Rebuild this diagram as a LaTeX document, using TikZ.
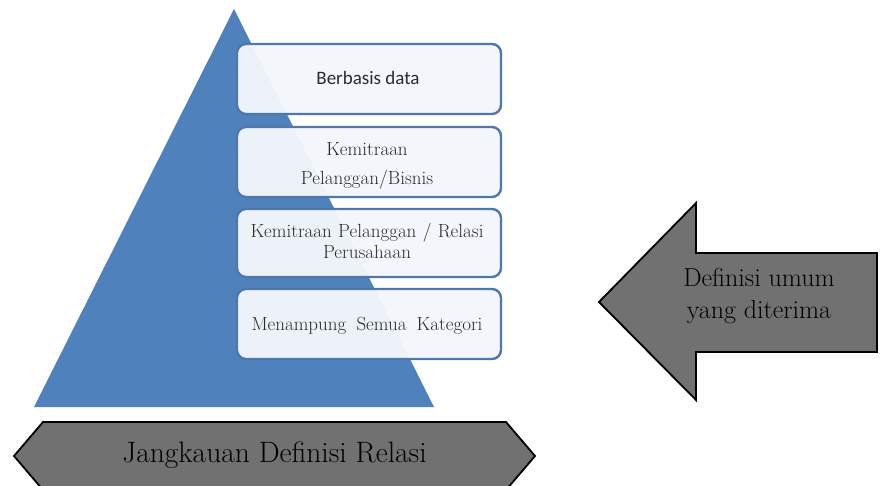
\documentclass[tikz,border=0pt]{standalone}
\usepackage{fontspec}
\newfontfamily\carlito{Carlito}
\definecolor{triblue}{HTML}{4F81BD}
\definecolor{boxline}{HTML}{4F77AC}
\definecolor{boxfill}{HTML}{F3F6FB}
\definecolor{shapegrey}{HTML}{717171}
\definecolor{boxtext}{HTML}{2B2B2B}
\tikzset{
  pyrbox/.style={draw=boxline, line width=2.4pt, rounded corners=9pt, fill=boxfill, fill opacity=0.97},
  greyshape/.style={draw=black, line width=1.8pt, fill=shapegrey, line join=miter},
  boxlabel/.style={text=boxtext, font=\rmfamily\fontsize{19}{21}\selectfont, anchor=base, inner sep=0pt},
  biglabel/.style={text=black, inner sep=0pt, anchor=base}
}
\begin{document}
\begin{tikzpicture}[x=1pt,y=-1pt]
\clip (0,0) rectangle (882,486);
\fill[white] (0,0) rectangle (882,486);
% pyramid
\fill[triblue] (234,9) -- (434,407) -- (34,407) -- cycle;
% boxes
\draw[pyrbox] (237,44) rectangle (501,114);
\draw[pyrbox] (237,127) rectangle (501,197);
\draw[pyrbox] (237,209) rectangle (501,277);
\draw[pyrbox] (237,289) rectangle (501,359);
\node[boxlabel] (b1) at (368,85) {\carlito\fontsize{19}{21}\selectfont Berbasis data};
\node[boxlabel] (b2a) at (367,156) {Kemitraan};
\node[boxlabel] (b2b) at (367,185) {Pelanggan/Bisnis};
\node[boxlabel] (b3a) at (367,237) {\makebox[233pt][s]{Kemitraan Pelanggan / Relasi}};
\node[boxlabel] (b3b) at (367,258) {Perusahaan};
\node[boxlabel] (b4) at (367,330) {\makebox[231pt][s]{Menampung Semua Kategori}};
% left arrow
\draw[greyshape] (599,302) -- (696,203) -- (696,253) -- (877,253) -- (877,352) -- (696,352) -- (696,400) -- cycle;
\node[biglabel, font=\rmfamily\fontsize{26}{32}\selectfont] (def1) at (759,286) {Definisi umum};
\node[biglabel, font=\rmfamily\fontsize{26}{32}\selectfont] (def2) at (759,318) {yang diterima};
% bottom hexagon
\draw[greyshape] (14,456) -- (43,422) -- (506,422) -- (535,456) -- (506,490) -- (43,490) -- cycle;
\node[biglabel, font=\rmfamily\fontsize{29.5}{32}\selectfont] (jang) at (274.5,462) {Jangkauan Definisi Relasi};
\end{tikzpicture}
\end{document}
